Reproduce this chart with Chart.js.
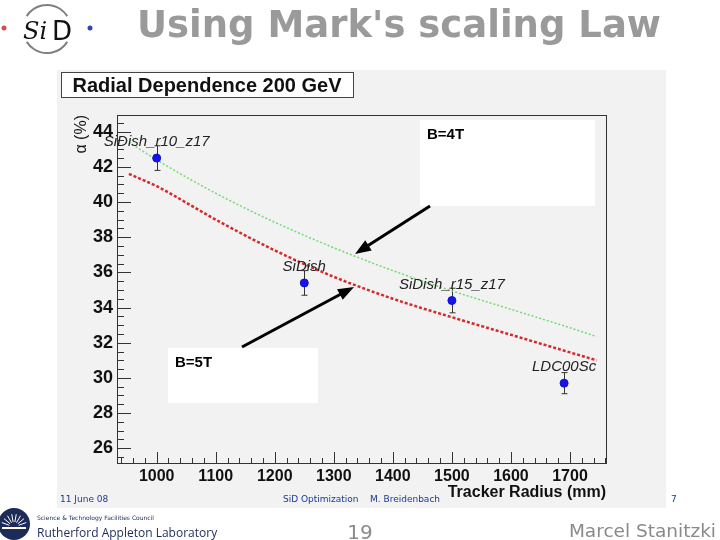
<!DOCTYPE html>
<html>
<head>
<meta charset="utf-8">
<script src="https://cdn.jsdelivr.net/npm/chart.js@4.4.0/dist/chart.umd.min.js"></script>
<style>
  html, body { margin: 0; padding: 0; background: #fff; }
  #wrap { width: 720px; height: 540px; position: relative; }
</style>
</head>
<body>
<div id="wrap"><canvas id="radialChart" width="720" height="540"></canvas></div>
<script>
// Fit curves (alpha in %, vs tracker radius in mm)
const radiusGrid = [953, 1000, 1100, 1200, 1300, 1400, 1500, 1600, 1700, 1745];
const alpha4T = [43.4, 42.4, 40.5, 38.85, 37.4, 36.1, 34.95, 33.9, 32.85, 32.35];
const alpha5T = [41.6, 40.9, 39.0, 37.25, 35.75, 34.5, 33.45, 32.45, 31.45, 31.0];

// Simulated detector points
const detectorNames = ['SiDish_r10_z17', 'SiDish', 'SiDish_r15_z17', 'LDC00Sc'];
const detectorRadius = [1000, 1250, 1500, 1690];
const detectorAlpha = [42.5, 35.4, 34.4, 29.7];
const detectorError = [0.7, 0.7, 0.7, 0.6];

// Axis ticks
const xTicks = [1000, 1100, 1200, 1300, 1400, 1500, 1600, 1700];
const yTicks = [26, 28, 30, 32, 34, 36, 38, 40, 42, 44];

const FONT = "'Liberation Sans', Arial, sans-serif";

const slideDeco = {
  id: 'slideDeco',
  beforeDraw(chart) {
    const ctx = chart.ctx;
    ctx.save();
    ctx.fillStyle = '#fff';
    ctx.fillRect(0, 0, 720, 540);
    // ROOT canvas background
    ctx.fillStyle = '#f2f2f2';
    ctx.fillRect(57, 70, 609, 438);

    // slide title
    ctx.fillStyle = '#9a9a9a';
    ctx.font = "bold 37px 'DejaVu Sans', sans-serif";
    ctx.textBaseline = 'alphabetic';
    ctx.fillText("Using Mark's scaling Law", 137, 37);

    // SiD logo
    ctx.strokeStyle = '#808080';
    ctx.lineWidth = 2;
    ctx.beginPath(); ctx.arc(47, 29, 24, Math.PI * 1.18, Math.PI * 1.82); ctx.stroke();
    ctx.beginPath(); ctx.arc(47, 29, 24, Math.PI * 0.18, Math.PI * 0.82); ctx.stroke();
    ctx.fillStyle = '#111';
    ctx.font = "italic 24px 'DejaVu Serif', serif";
    ctx.fillText('Si', 23, 39);
    ctx.font = "26px 'DejaVu Sans', sans-serif";
    ctx.fillText('D', 52, 40);
    ctx.fillStyle = '#d05050';
    ctx.beginPath(); ctx.arc(4, 28, 2.5, 0, Math.PI * 2); ctx.fill();
    ctx.fillStyle = '#3344bb';
    ctx.beginPath(); ctx.arc(90, 28, 2.5, 0, Math.PI * 2); ctx.fill();

    // ROOT title box
    ctx.fillStyle = '#fff';
    ctx.fillRect(61, 72, 292, 25);
    ctx.strokeStyle = '#444';
    ctx.lineWidth = 1;
    ctx.strokeRect(61.5, 72.5, 292, 25);
    ctx.fillStyle = '#111';
    ctx.font = 'bold 20px ' + FONT;
    ctx.textAlign = 'center';
    ctx.textBaseline = 'middle';
    ctx.fillText('Radial Dependence 200 GeV', 207, 86);

    // original slide footer
    ctx.fillStyle = '#1a3a90';
    ctx.font = "9px 'DejaVu Sans', sans-serif";
    ctx.textAlign = 'left';
    ctx.fillText('11 June 08', 60, 500);
    ctx.fillText('SiD Optimization', 283, 500);
    ctx.fillText('M. Breidenbach', 370, 500);
    ctx.fillText('7', 671, 500);

    // RAL logo
    ctx.fillStyle = '#1c2b5a';
    ctx.beginPath(); ctx.arc(14, 524, 16, 0, Math.PI * 2); ctx.fill();
    ctx.strokeStyle = '#fff';
    ctx.lineWidth = 1;
    for (let a = -160; a <= -20; a += 20) {
      const r = a * Math.PI / 180;
      ctx.beginPath();
      ctx.moveTo(14 + 5 * Math.cos(r), 527 + 5 * Math.sin(r));
      ctx.lineTo(14 + 13 * Math.cos(r), 527 + 13 * Math.sin(r));
      ctx.stroke();
    }
    ctx.fillStyle = '#fff';
    ctx.fillRect(2, 527, 24, 2);
    ctx.fillStyle = '#1c2b5a';
    ctx.font = "6px 'DejaVu Sans', sans-serif";
    ctx.textBaseline = 'alphabetic';
    ctx.fillText('Science & Technology Facilities Council', 37, 520);
    ctx.font = "12px 'Open Sans', sans-serif";
    ctx.fillText('Rutherford Appleton Laboratory', 37, 537);

    ctx.fillStyle = '#8a8a8a';
    ctx.font = "20px 'DejaVu Sans', sans-serif";
    ctx.textAlign = 'center';
    ctx.fillText('19', 360, 539);
    ctx.font = "18.5px 'DejaVu Sans', sans-serif";
    ctx.textAlign = 'right';
    ctx.fillText('Marcel Stanitzki', 716, 537);
    ctx.restore();
  },
  beforeDatasetsDraw(chart) {
    const ctx = chart.ctx;
    const xs = chart.scales.x, ys = chart.scales.y;
    ctx.save();
    ctx.strokeStyle = '#333';
    ctx.lineWidth = 1;
    detectorRadius.forEach((r, i) => {
      const px = Math.round(xs.getPixelForValue(r)) + 0.5;
      const top = ys.getPixelForValue(detectorAlpha[i] + detectorError[i]);
      const bot = ys.getPixelForValue(detectorAlpha[i] - detectorError[i]);
      ctx.beginPath();
      ctx.moveTo(px, top); ctx.lineTo(px, bot);
      ctx.moveTo(px - 3, top); ctx.lineTo(px + 3, top);
      ctx.moveTo(px - 3, bot); ctx.lineTo(px + 3, bot);
      ctx.stroke();
    });
    ctx.restore();
  },
  afterDatasetsDraw(chart) {
    const ctx = chart.ctx;
    const xs = chart.scales.x, ys = chart.scales.y;
    const a = chart.chartArea;
    ctx.save();

    // frame
    ctx.strokeStyle = '#333';
    ctx.lineWidth = 1;
    ctx.strokeRect(a.left + 0.5, a.top + 0.5, a.right - a.left, a.bottom - a.top);

    // ticks pointing inward
    ctx.beginPath();
    for (let v = 940; v <= 1760; v += 20) {
      const px = Math.round(xs.getPixelForValue(v)) + 0.5;
      const len = v % 100 === 0 ? 11 : 5;
      ctx.moveTo(px, a.bottom); ctx.lineTo(px, a.bottom - len);
    }
    for (let v = 25.5; v <= 44.9; v += 0.5) {
      const py = Math.round(ys.getPixelForValue(v)) + 0.5;
      const len = v % 2 === 0 ? 14 : 7;
      ctx.moveTo(a.left, py); ctx.lineTo(a.left + len, py);
    }
    ctx.stroke();

    // point labels
    ctx.fillStyle = '#222';
    ctx.font = 'italic 15px ' + FONT;
    ctx.textAlign = 'center';
    ctx.textBaseline = 'alphabetic';
    detectorNames.forEach((n, i) => {
      const px = xs.getPixelForValue(detectorRadius[i]);
      const py = ys.getPixelForValue(detectorAlpha[i]);
      ctx.fillText(n, px, py - 12);
    });

    // axis titles
    ctx.fillStyle = '#111';
    ctx.font = 'bold 16px ' + FONT;
    ctx.textAlign = 'right';
    ctx.fillText('Tracker Radius (mm)', a.right, 497);
    ctx.save();
    ctx.translate(82, a.top);
    ctx.rotate(-Math.PI / 2);
    ctx.font = '16px ' + FONT;
    ctx.textAlign = 'right';
    ctx.textBaseline = 'middle';
    ctx.fillText('\u03b1 (%)', 0, 0);
    ctx.restore();

    // pasted annotation boxes and arrows
    const boxes = [
      { x: 420, y: 120, w: 175, h: 86, text: 'B=4T', tx: 427, ty: 139 },
      { x: 168, y: 348, w: 150, h: 55, text: 'B=5T', tx: 175, ty: 367 }
    ];
    boxes.forEach(b => {
      ctx.fillStyle = '#fff';
      ctx.fillRect(b.x, b.y, b.w, b.h);
      ctx.fillStyle = '#000';
      ctx.font = 'bold 15px ' + FONT;
      ctx.textAlign = 'left';
      ctx.textBaseline = 'alphabetic';
      ctx.fillText(b.text, b.tx, b.ty);
    });
    const arrows = [
      [430, 206, 355, 254],
      [242, 347, 354, 287]
    ];
    arrows.forEach(([x1, y1, x2, y2]) => {
      const ang = Math.atan2(y2 - y1, x2 - x1);
      ctx.strokeStyle = '#000';
      ctx.lineWidth = 3;
      ctx.beginPath();
      ctx.moveTo(x1, y1);
      ctx.lineTo(x2 - 10 * Math.cos(ang), y2 - 10 * Math.sin(ang));
      ctx.stroke();
      ctx.fillStyle = '#000';
      ctx.beginPath();
      ctx.moveTo(x2, y2);
      ctx.lineTo(x2 - 16 * Math.cos(ang) + 6 * Math.sin(ang), y2 - 16 * Math.sin(ang) - 6 * Math.cos(ang));
      ctx.lineTo(x2 - 16 * Math.cos(ang) - 6 * Math.sin(ang), y2 - 16 * Math.sin(ang) + 6 * Math.cos(ang));
      ctx.closePath();
      ctx.fill();
    });
    ctx.restore();
  }
};

new Chart(document.getElementById('radialChart'), {
  type: 'scatter',
  data: {
    datasets: [
      {
        label: 'Detectors',
        data: detectorRadius.map((r, i) => ({ x: r, y: detectorAlpha[i] })),
        pointRadius: 4,
        pointBackgroundColor: '#1414f0',
        pointBorderColor: '#1010c8',
        pointBorderWidth: 1,
        showLine: false
      },
      {
        label: 'B=4T',
        data: radiusGrid.map((r, i) => ({ x: r, y: alpha4T[i] })),
        showLine: true,
        borderColor: '#6fdc6f',
        borderWidth: 1.5,
        borderDash: [2, 2],
        pointRadius: 0,
        cubicInterpolationMode: 'monotone'
      },
      {
        label: 'B=5T',
        data: radiusGrid.map((r, i) => ({ x: r, y: alpha5T[i] })),
        showLine: true,
        borderColor: '#d42a2a',
        borderWidth: 2.5,
        borderDash: [3, 2],
        pointRadius: 0,
        cubicInterpolationMode: 'monotone'
      }
    ]
  },
  options: {
    responsive: false,
    animation: false,
    devicePixelRatio: 1,
    layout: { padding: { left: 57, top: 115, right: 114, bottom: 32 } },
    plugins: { legend: { display: false }, tooltip: { enabled: false } },
    scales: {
      x: {
        type: 'linear',
        min: 932.8,
        max: 1761,
        afterBuildTicks: s => { s.ticks = xTicks.map(v => ({ value: v })); },
        afterFit: s => { s.height = 45; },
        grid: { display: false, drawTicks: false },
        border: { display: false },
        ticks: {
          color: '#111',
          font: { family: FONT, size: 16, weight: 'bold' },
          padding: 4,
          maxRotation: 0,
          callback: v => String(v)
        }
      },
      y: {
        type: 'linear',
        min: 25.16,
        max: 44.95,
        afterBuildTicks: s => { s.ticks = yTicks.map(v => ({ value: v })); },
        afterFit: s => { s.width = 60; },
        grid: { display: false, drawTicks: false },
        border: { display: false },
        ticks: {
          color: '#111',
          font: { family: FONT, size: 18, weight: 'bold' },
          padding: 4,
          callback: v => String(v)
        }
      }
    }
  },
  plugins: [slideDeco]
});
</script>
</body>
</html>
